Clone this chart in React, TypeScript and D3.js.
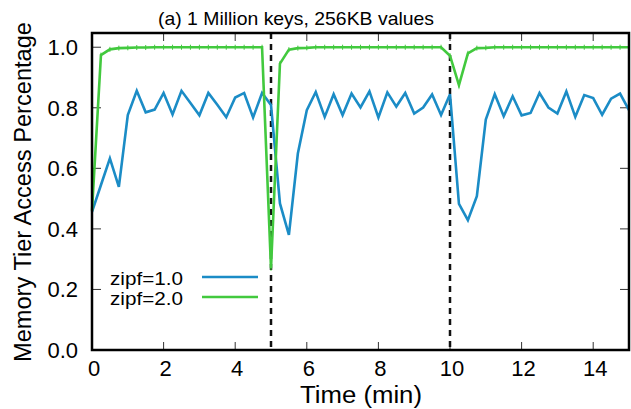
import React, { useRef, useEffect } from "react";
import * as d3 from "d3";

const W = 631;
const H = 409;

// time in minutes, one sample every 15 s
const times = d3.range(0, 61).map((i) => i * 0.25);

const zipf1 = [
  0.456, 0.545, 0.633, 0.539, 0.776, 0.856, 0.785, 0.794, 0.849, 0.778,
  0.856, 0.816, 0.775, 0.849, 0.81, 0.769, 0.834, 0.849, 0.768, 0.849,
  0.809, 0.484, 0.38, 0.649, 0.792, 0.852, 0.77, 0.845, 0.776, 0.847,
  0.801, 0.854, 0.768, 0.851, 0.804, 0.849, 0.781, 0.801, 0.844, 0.776,
  0.845, 0.483, 0.429, 0.508, 0.761, 0.845, 0.772, 0.838, 0.775, 0.783,
  0.849, 0.801, 0.781, 0.854, 0.77, 0.842, 0.832, 0.777, 0.83, 0.847,
  0.792,
];

const zipf2 = [
  0.46, 0.974, 0.993, 0.997, 0.998, 0.999, 0.999, 1.0, 1.0, 1.0,
  1.0, 1.0, 1.0, 1.0, 1.0, 1.0, 1.0, 1.0, 1.0, 1.0,
  0.27, 0.946, 0.992, 0.997, 0.998, 1.0, 1.0, 1.0, 1.0, 1.0,
  1.0, 1.0, 1.0, 1.0, 1.0, 1.0, 1.0, 1.0, 1.0, 1.0,
  0.972, 0.875, 0.98, 0.997, 0.998, 1.0, 1.0, 1.0, 1.0, 1.0,
  1.0, 1.0, 1.0, 1.0, 1.0, 1.0, 1.0, 1.0, 1.0, 1.0,
  1.0,
];

const seriesNames = ["zipf=1.0", "zipf=2.0"];
const seriesColors = ["#1b8cc6", "#42c93e"];
const xTicks = [0, 2, 4, 6, 8, 10, 12, 14];
const yTicks = [0, 0.2, 0.4, 0.6, 0.8, 1.0];
const phaseMarks = [5, 10];

const font = "'Liberation Sans', Arial, Helvetica, sans-serif";

function App() {
  const svgRef = useRef<SVGSVGElement>(null);

  useEffect(() => {
    const svg = d3.select(svgRef.current);
    svg.selectAll("*").remove();

    const left = 92, right = 629, top = 33, bottom = 350;
    const x = d3.scaleLinear().domain([0, 15]).range([left, right]);
    const y = d3.scaleLinear().domain([0, 1.047]).range([bottom, top]);

    // title
    svg.append("text")
      .attr("x", 296).attr("y", 25)
      .attr("text-anchor", "middle")
      .attr("font-size", 19)
      .attr("textLength", 276).attr("lengthAdjust", "spacingAndGlyphs")
      .text("(a) 1 Million keys, 256KB values");

    // ticks (inside, mirrored)
    const tk = svg.append("g").attr("stroke", "#333").attr("stroke-width", 1);
    xTicks.forEach((t) => {
      tk.append("line").attr("x1", x(t)).attr("x2", x(t)).attr("y1", bottom).attr("y2", bottom - 8);
      tk.append("line").attr("x1", x(t)).attr("x2", x(t)).attr("y1", top).attr("y2", top + 8);
    });
    yTicks.forEach((t) => {
      tk.append("line").attr("x1", left).attr("x2", left + 9).attr("y1", y(t)).attr("y2", y(t));
      tk.append("line").attr("x1", right).attr("x2", right - 9).attr("y1", y(t)).attr("y2", y(t));
    });

    // tick labels
    svg.append("g").selectAll("text").data(xTicks).join("text")
      .attr("x", (d) => x(d) + 2).attr("y", 376)
      .attr("text-anchor", "middle").attr("font-size", 22)
      .text((d) => String(d));
    svg.append("g").selectAll("text").data(yTicks).join("text")
      .attr("x", 78).attr("y", (d) => y(d) + 8)
      .attr("text-anchor", "end").attr("font-size", 22)
      .text((d) => d.toFixed(1));

    // axis titles
    svg.append("text")
      .attr("x", 361).attr("y", 403)
      .attr("text-anchor", "middle").attr("font-size", 23)
      .attr("textLength", 122).attr("lengthAdjust", "spacingAndGlyphs")
      .text("Time (min)");
    svg.append("text")
      .attr("transform", "translate(31,192) rotate(-90)")
      .attr("text-anchor", "middle").attr("font-size", 23)
      .attr("textLength", 340).attr("lengthAdjust", "spacingAndGlyphs")
      .text("Memory Tier Access Percentage");

    // phase boundaries
    svg.append("g").selectAll("line").data(phaseMarks).join("line")
      .attr("x1", (d) => x(d)).attr("x2", (d) => x(d))
      .attr("y1", top).attr("y2", bottom)
      .attr("stroke", "#111").attr("stroke-width", 2.5)
      .attr("stroke-dasharray", "6,5");

    const line = d3.line<number>()
      .x((d, i) => x(times[i]))
      .y((d) => y(d));

    [zipf1, zipf2].forEach((vals, k) => {
      svg.append("path")
        .attr("d", line(vals))
        .attr("fill", "none")
        .attr("stroke", seriesColors[k])
        .attr("stroke-width", 2.6)
        .attr("stroke-linejoin", "miter");
    });

    // small point marks on the green series
    svg.append("g").selectAll("line").data(zipf2).join("line")
      .attr("x1", (d, i) => x(times[i])).attr("x2", (d, i) => x(times[i]))
      .attr("y1", (d) => y(d) - 2.5).attr("y2", (d) => y(d) + 2.5)
      .attr("stroke", seriesColors[1]).attr("stroke-width", 1);

    // legend
    seriesNames.forEach((name, k) => {
      const ly = 277 + k * 20;
      svg.append("text")
        .attr("x", 183).attr("y", ly + 8)
        .attr("text-anchor", "end").attr("font-size", 19)
        .attr("textLength", 73).attr("lengthAdjust", "spacingAndGlyphs")
        .text(name);
      svg.append("line")
        .attr("x1", 202).attr("x2", 258).attr("y1", ly).attr("y2", ly)
        .attr("stroke", seriesColors[k]).attr("stroke-width", 2.6);
    });

    // frame
    svg.append("rect")
      .attr("x", left).attr("y", top)
      .attr("width", right - left).attr("height", bottom - top)
      .attr("fill", "none").attr("stroke", "#000").attr("stroke-width", 2.5);
  }, []);

  return (
    <svg
      ref={svgRef}
      width={W}
      height={H}
      style={{ position: "absolute", left: 0, top: 0, background: "#fff", fontFamily: font }}
    />
  );
}

export default App;
